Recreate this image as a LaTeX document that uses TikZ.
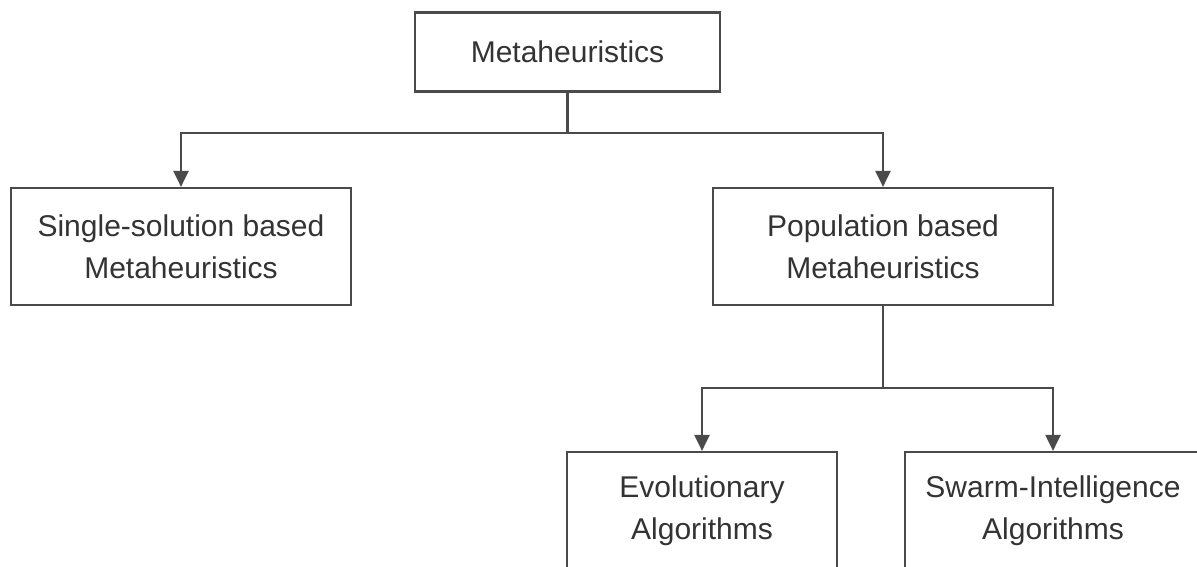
\documentclass[tikz,border=0pt]{standalone}
\usepackage{fontspec}
\setmainfont{Liberation Sans}
\usetikzlibrary{arrows.meta}
\definecolor{linec}{HTML}{4A4A4A}
\definecolor{textc}{HTML}{333333}
\tikzset{
  box/.style={draw=linec, line width=2.2pt, fill=white, align=center, text=textc,
    font=\fontsize{30}{42}\selectfont, inner sep=0pt},
  conn/.style={draw=linec, line width=2.2pt},
  arr/.style={conn, -{Triangle[length=16pt,width=15pt]}}
}
\begin{document}
\begin{tikzpicture}[x=1pt,y=1pt]
\clip (0,0) rectangle (1197,-567);
\fill[white] (0,0) rectangle (1197,-567);
\node[box, minimum width=305pt, minimum height=79pt] (top) at (567.5,-52) {Metaheuristics};
\node[box, minimum width=340pt, minimum height=117pt] (single) at (181,-246.5) {Single-solution based\\Metaheuristics};
\node[box, minimum width=340pt, minimum height=117pt] (pop) at (883,-246.5) {Population based\\Metaheuristics};
\node[box, minimum width=270pt, minimum height=117pt] (evo) at (702,-510.5) {Evolutionary\\Algorithms};
\node[box, minimum width=296pt, minimum height=117pt] (swarm) at (1053,-510.5) {Swarm-Intelligence\\Algorithms};
\coordinate (b1) at (567.5,-133);
\coordinate (b2) at (883,-388);
\draw[conn] (top.south) -- (b1);
\draw[arr] (b1) -| (single.north);
\draw[arr] (b1) -| (pop.north);
\draw[conn] (pop.south) -- (b2);
\draw[arr] (b2) -| (evo.north);
\draw[arr] (b2) -| (swarm.north);
\end{tikzpicture}
\end{document}
